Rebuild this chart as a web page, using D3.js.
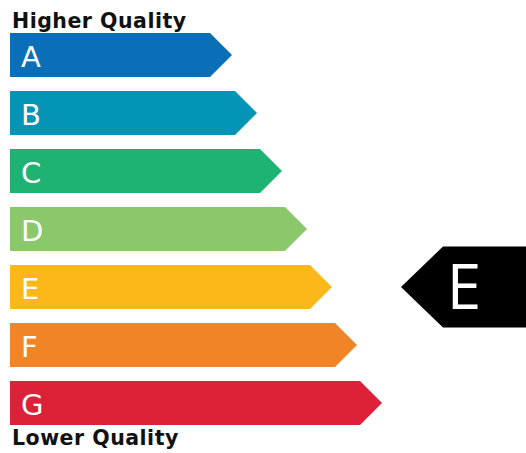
<!DOCTYPE html>
<html>
<head>
<meta charset="UTF-8">
<title>Quality rating</title>
<script src="https://d3js.org/d3.v7.min.js"></script>
<style>
body { margin: 0; background: #fff; }
</style>
</head>
<body>
<div id="vis"></div>
<script>
// rating classes, best to worst
var grades = ["A", "B", "C", "D", "E", "F", "G"];
var grade_colors = ["#0a6fb6", "#0494b6", "#1fb373", "#8bc86b", "#fbb818", "#f18427", "#dc2139"];
var bar_lengths = [1, 2, 3, 4, 5, 6, 7];
var rating = "E";
var top_label = "Higher Quality";
var bottom_label = "Lower Quality";

var width = 526, height = 453;

var svg = d3.select("#vis")
	.append("svg")
	.attr("width", width)
	.attr("height", height);

var y = d3.scaleBand()
	.domain(grades)
	.range([33, 425])
	.paddingInner(14 / 58)
	.paddingOuter(0);

// tip x position
var x = d3.scaleLinear()
	.domain([1, 7])
	.range([232, 382]);

var left = 10;

var rows = svg.selectAll("g.bar")
	.data(grades)
	.enter()
	.append("g")
	.attr("class", "bar")
	.attr("transform", function(d) { return "translate(0," + y(d) + ")"; });

rows.append("polygon")
	.attr("points", function(d, i) {
		var h = y.bandwidth();
		var tip = x(bar_lengths[i]);
		var head = h / 2;
		return [[left, 0], [tip - head, 0], [tip, h / 2], [tip - head, h], [left, h]].join(" ");
	})
	.attr("fill", function(d, i) { return grade_colors[i]; });

rows.append("text")
	.attr("x", 21)
	.attr("y", y.bandwidth() / 2 + 12)
	.attr("fill", "#fff")
	.style("font-family", "'DejaVu Sans', sans-serif")
	.style("font-size", "29px")
	.text(function(d) { return d; });

svg.append("text")
	.attr("x", 12)
	.attr("y", 28)
	.style("font-family", "'DejaVu Sans', sans-serif")
	.style("font-weight", "bold")
	.style("font-size", "20.5px")
	.style("letter-spacing", "0.5px")
	.attr("fill", "#111")
	.text(top_label);

svg.append("text")
	.attr("x", 12)
	.attr("y", 445)
	.style("font-family", "'DejaVu Sans', sans-serif")
	.style("font-weight", "bold")
	.style("font-size", "20.5px")
	.style("letter-spacing", "0.5px")
	.attr("fill", "#111")
	.text(bottom_label);

// rating marker
var ry = y(rating) + y.bandwidth() / 2;
var rh = 81;
svg.append("polygon")
	.attr("points", [[401, ry], [443, ry - rh / 2], [width, ry - rh / 2], [width, ry + rh / 2], [443, ry + rh / 2]].join(" "))
	.attr("fill", "#000");

svg.append("text")
	.attr("x", 464)
	.attr("y", ry + 22)
	.attr("text-anchor", "middle")
	.attr("fill", "#fff")
	.style("font-family", "'Open Sans', sans-serif")
	.style("font-size", "62px")
	.text(rating);
</script>
</body>
</html>
